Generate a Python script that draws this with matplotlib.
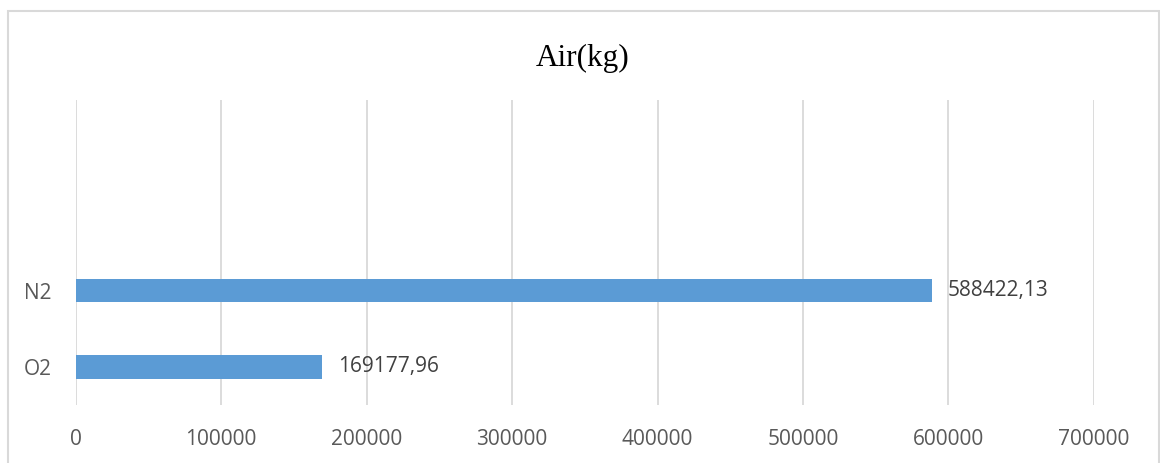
import matplotlib.pyplot as plt
from matplotlib.patches import Rectangle

# categories (bottom to top); the two top slots are empty in the source chart
categories = ["O2", "N2", "", ""]
values = [169177.96, 588422.13, None, None]
value_labels = ["169177,96", "588422,13"]
x_ticks = [0, 100000, 200000, 300000, 400000, 500000, 600000, 700000]

fig = plt.figure(figsize=(11.6, 4.63), dpi=100)
ax = fig.add_axes([0.0651, 0.1253, 0.878, 0.659])

# outer chart frame (bottom edge is cut off in the reference)
fig.patches.append(Rectangle((8 / 1160, -0.05), 1151 / 1160, 1.05 - 11 / 463,
                             transform=fig.transFigure, fill=False,
                             edgecolor="#D9D9D9", linewidth=1.5))

bar_color = "#5B9BD5"
pos = list(range(len(categories)))
for i, v in enumerate(values):
    if v is None:
        continue
    ax.barh(pos[i], v, height=0.31, color=bar_color, zorder=3)
    ax.text(v + 11000, pos[i], value_labels[i], va="center", ha="left",
            fontsize=15, color="#404040", family="Open Sans")

ax.set_xlim(0, 700000)
ax.set_ylim(-0.5, 3.5)
ax.set_xticks(x_ticks)
ax.set_xticklabels([str(t) for t in x_ticks], family="Open Sans",
                   fontsize=15, color="#595959")
ax.set_yticks(pos)
ax.set_yticklabels(categories, family="Open Sans", fontsize=15,
                   color="#595959")
ax.tick_params(axis="both", length=0)
ax.tick_params(axis="x", pad=17)
ax.tick_params(axis="y", pad=17)

ax.grid(axis="x", color="#D9D9D9", linewidth=1.3, zorder=0)
for s in ax.spines.values():
    s.set_visible(False)

fig.text(583 / 1160, 1 - 58 / 463, "Air(kg)", ha="center", va="center",
         family="Liberation Serif", fontsize=22.5, color="black")

fig.savefig("out.png", dpi=100)
